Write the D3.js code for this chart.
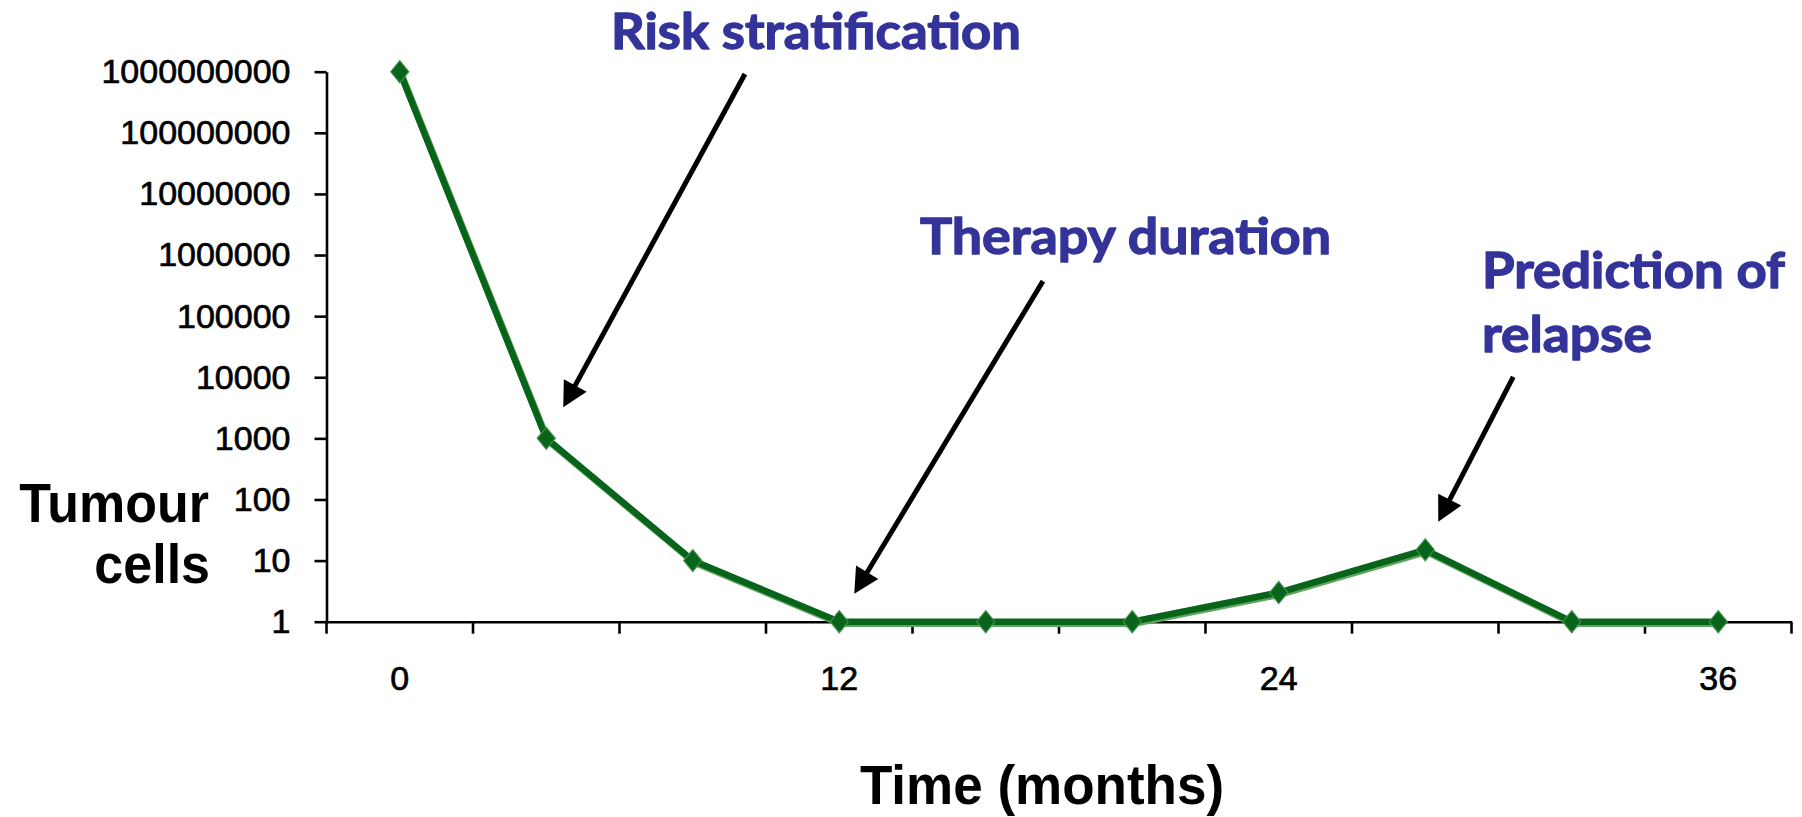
<!DOCTYPE html>
<html><head><meta charset="utf-8">
<script src="https://cdn.jsdelivr.net/npm/d3@7"></script>
<style>body{margin:0;background:#fff}svg{display:block}</style>
</head><body>
<svg id="chart" width="1802" height="817"></svg>
<script>
// ---- data ----
const months = [0, 4, 8, 12, 16, 20, 24, 28, 32, 36];
const cells = [1000000000, 1000, 10, 1, 1, 1, 3, 15, 1, 1];
const yTickValues = [1, 10, 100, 1000, 10000, 100000, 1000000, 10000000, 100000000, 1000000000];
const xTickLabels = [0, 12, 24, 36];
const annoText = [["Risk stratification"], ["Therapy duration"], ["Prediction of", "relapse"]];
const annoMonth = [4, 12, 28];
const annoValue = [1000, 1, 15];

// ---- layout ----
const svg = d3.select("#chart");
const X0 = 326.5, X1 = 1791.5, Y0 = 621.7, Y1 = 71.7;
const x = d3.scaleBand().domain(months).range([X0, X1]).padding(0);
const y = d3.scaleLog().domain([1, 1e9]).range([Y0, Y1]);
const cx = m => x(m) + x.bandwidth() / 2;

// y axis
const gy = svg.append("g").attr("transform", `translate(${X0},0)`)
  .call(d3.axisLeft(y).tickValues(yTickValues).tickFormat(d3.format("d"))
    .tickSize(12).tickPadding(24).tickSizeOuter(0));
gy.select(".domain").attr("stroke", "#000").attr("stroke-width", 2.6);
gy.selectAll(".tick line").attr("stroke", "#000").attr("stroke-width", 2.6);
gy.selectAll(".tick text").attr("font-family", "'Liberation Sans', Arial, sans-serif")
  .attr("font-size", 34).attr("fill", "#000").attr("stroke", "#000").attr("stroke-width", 0.7);

// x axis (labels centred in bands, ticks on band boundaries)
const gx = svg.append("g").attr("transform", `translate(0,${Y0})`)
  .call(d3.axisBottom(x).tickValues(xTickLabels).tickSize(0).tickPadding(44).tickSizeOuter(0));
gx.select(".domain").attr("stroke", "#000").attr("stroke-width", 2.6);
gx.selectAll(".tick text").attr("font-family", "'Liberation Sans', Arial, sans-serif")
  .attr("font-size", 34).attr("fill", "#000").attr("stroke", "#000").attr("stroke-width", 0.7);
const bounds = months.map(m => x(m)).concat([x.range()[1]]);
gx.selectAll("line.bt").data(bounds).join("line").attr("class", "bt")
  .attr("x1", d => d).attr("x2", d => d).attr("y1", 0).attr("y2", 12)
  .attr("stroke", "#000").attr("stroke-width", 2.6);

// axis titles
const titleFont = "'Liberation Sans', Arial, sans-serif";
function title(t, xx, yy, anchor, size, sy) {
  svg.append("text").attr("transform", `translate(${xx},${yy}) scale(1,${sy})`)
    .attr("text-anchor", anchor).attr("font-family", titleFont).attr("font-weight", "bold")
    .attr("font-size", size).attr("fill", "#000").text(t);
}
title("Tumour", 209, 521.7, "end", 52, 1.08);
title("cells", 210, 583.3, "end", 52, 1.08);
title("Time (months)", 1042, 804, "middle", 53, 1.04);

// data line
const pts = months.map((m, i) => ({ m, v: cells[i] }));
const line = d3.line().x(d => cx(d.m)).y(d => y(d.v));
svg.append("path").datum(pts).attr("d", line).attr("fill", "none")
  .attr("stroke", "#5fa45f").attr("stroke-width", 7).attr("stroke-linejoin", "round")
  .attr("transform", "translate(1.3,1.8)");
svg.append("path").datum(pts).attr("d", line).attr("fill", "none")
  .attr("stroke", "#08641a").attr("stroke-width", 6.5).attr("stroke-linejoin", "round");
svg.selectAll("path.mk").data(pts).join("path").attr("class", "mk")
  .attr("d", "M0,-11L9,0L0,11L-9,0Z")
  .attr("transform", d => `translate(${cx(d.m)},${y(d.v)})`)
  .attr("fill", "#08641a").attr("stroke", "#3f8d45").attr("stroke-width", 1.2);

// annotations
const annoPos = [[611, 49.3, 410], [920, 254, 411], [1482, 288.3, 303]];
const annoLineWidths = [[410], [411], [303, 170]];
const tipOffset = [[17, -31], [15, -28], [13, -28]];
const tailVec = [[181.7, -333.4], [188.7, -312.6], [75, -145]];
annoText.forEach((lines, i) => {
  lines.forEach((t, j) => {
    svg.append("text").attr("x", annoPos[i][0]).attr("y", annoPos[i][1] + j * 63.4)
      .attr("font-family", "Lato, 'Open Sans', sans-serif").attr("font-weight", "bold")
      .attr("font-size", 49).attr("fill", "#333399")
      .attr("stroke", "#333399").attr("stroke-width", 1.3).attr("stroke-linejoin", "round")
      .attr("textLength", annoLineWidths[i][j]).attr("lengthAdjust", "spacingAndGlyphs")
      .text(t);
  });
  const tx = cx(annoMonth[i]) + tipOffset[i][0];
  const ty = y(annoValue[i]) + tipOffset[i][1];
  const sx = tx + tailVec[i][0], sy = ty + tailVec[i][1];
  const len = Math.hypot(sx - tx, sy - ty);
  const ux = (sx - tx) / len, uy = (sy - ty) / len; // points back toward tail
  const L = 25, W = 13;
  const bx = tx + ux * L, by = ty + uy * L;
  svg.append("line").attr("x1", sx).attr("y1", sy).attr("x2", bx - ux * 2).attr("y2", by - uy * 2)
    .attr("stroke", "#000").attr("stroke-width", 5);
  svg.append("path")
    .attr("d", `M${tx},${ty}L${bx - uy * W},${by + ux * W}L${bx + uy * W},${by - ux * W}Z`)
    .attr("fill", "#000");
});
</script>
</body></html>
